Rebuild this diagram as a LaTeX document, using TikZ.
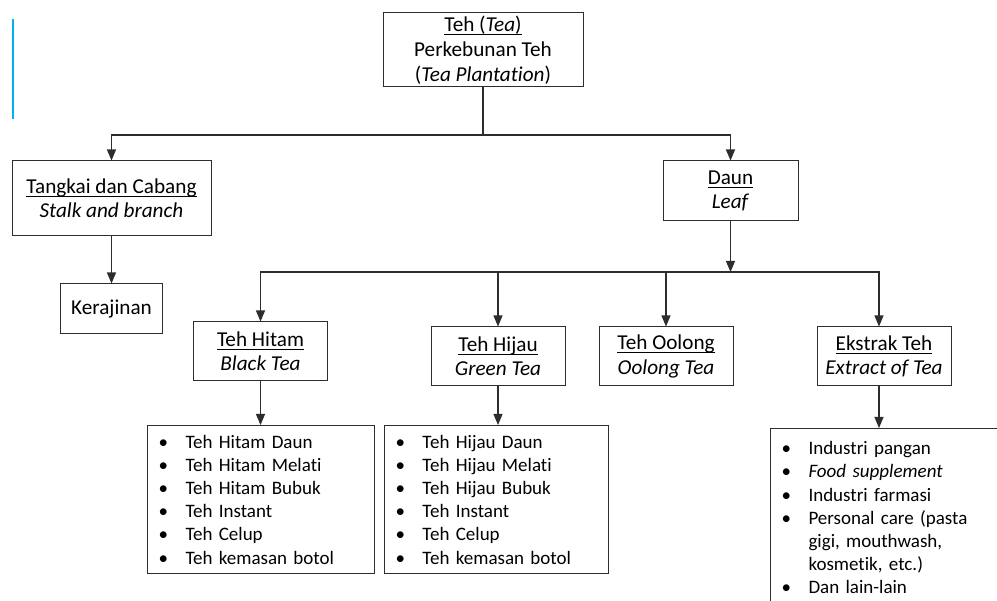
\documentclass[tikz,border=0pt]{standalone}
\usepackage{fontspec}
\setmainfont{Carlito}[Ligatures=NoCommon]
\usetikzlibrary{positioning,arrows.meta,calc}
\definecolor{LineGray}{RGB}{45,45,45}
\definecolor{MarkBlue}{RGB}{0,176,240}
\newsavebox\ulsave
\newcommand{\ultext}[1]{\sbox\ulsave{#1}\rlap{\rule[-3.4pt]{\wd\ulsave}{0.95pt}}\usebox\ulsave}
\newcommand{\bitem}[1]{\makebox[27pt][l]{\textbullet}#1}

\begin{document}
\begin{tikzpicture}[x=1pt, y=-1pt,
    every node/.style={font=\fontsize{19}{23.2}\selectfont, align=center},
    teabox/.style={draw=LineGray, line width=1pt, fill=white, inner sep=0pt,
                   font=\fontsize{21.2}{24.3}\selectfont},
    listbox/.style={draw=LineGray, line width=1pt, align=left, inner xsep=11pt,
                    inner ysep=0pt, anchor=north west},
    arr/.style={draw=LineGray, line width=1.1pt, -{Triangle[length=11pt,width=9pt]}},
    conn/.style={draw=LineGray, line width=1.1pt}]
  \useasboundingbox (0,0) rectangle (997,601);
  \clip (0,0) rectangle (997,601);
  \draw[MarkBlue, line width=2pt] (13,19) -- (13,119);

  % top level
  \node[teabox, minimum width=200pt, minimum height=74pt] (tea) at (483,50)
    {\ultext{Teh (\textit{Tea})}\\[0.6pt]Perkebunan Teh\\[0.6pt](\textit{Tea Plantation})};
  \node[teabox, minimum width=199pt, minimum height=75pt] (stalk) at (111.5,198.5)
    {\ultext{Tangkai dan Cabang}\\\textit{Stalk and branch}};
  \node[teabox, minimum width=135pt, minimum height=60pt] (leaf) at (730.5,191)
    {\ultext{Daun}\\\textit{Leaf}};
  \node[teabox, minimum width=102pt, minimum height=50pt] (craft) at (111.5,309)
    {Kerajinan};

  % leaf products
  \node[teabox, minimum width=134pt, minimum height=59pt] (black) at (260.5,351.5)
    {\ultext{Teh Hitam}\\\textit{Black Tea}};
  \node[teabox, minimum width=134pt, minimum height=59pt] (green) at (498,356.5)
    {\ultext{Teh Hijau}\\\textit{Green Tea}};
  \node[teabox, minimum width=134pt, minimum height=59pt] (oolong) at (666,356.5)
    {\ultext{Teh Oolong}\\\textit{Oolong Tea}};
  \node[teabox, minimum width=134pt, minimum height=59pt] (extract) at (884,356.5)
    {\ultext{Ekstrak Teh}\\\textit{Extract of Tea}};

  % lists
  \node[listbox, text width=205pt, minimum height=148pt] (blacklist) at (147,425)
    {\bitem{Teh Hitam Daun}\\\bitem{Teh Hitam Melati}\\\bitem{Teh Hitam Bubuk}\\
     \bitem{Teh Instant}\\\bitem{Teh Celup}\\\bitem{Teh kemasan botol}};
  \node[listbox, text width=206pt, minimum height=148pt, inner xsep=9pt] (greenlist) at (384,425)
    {\hspace*{2pt}\bitem{Teh Hijau Daun}\\\hspace*{2pt}\bitem{Teh Hijau Melati}\\
     \hspace*{2pt}\bitem{Teh Hijau Bubuk}\\\hspace*{2pt}\bitem{Teh Instant}\\
     \hspace*{2pt}\bitem{Teh Celup}\\\hspace*{2pt}\bitem{Teh kemasan botol}};
  \node[listbox, text width=240pt, inner ysep=13pt] (uselist) at (770,428)
    {\bitem{Industri pangan}\\\bitem{\textit{Food supplement}}\\\bitem{Industri farmasi}\\
     \bitem{Personal care (pasta}\\\hspace*{27pt}gigi, mouthwash,\\\hspace*{27pt}kosmetik, etc.)\\
     \bitem{Dan lain-lain}\\\mbox{}};

  % connectors
  \coordinate (split1) at (483,135);
  \coordinate (split2) at (730.5,272);
  \coordinate (exfoot) at ([xshift=-5pt]extract.south);
  \draw[conn] (tea.south) -- (split1);
  \draw[arr] (split1) -| (stalk.north);
  \draw[arr] (split1) -| (leaf.north);
  \draw[arr] (stalk.south) -- (craft.north);
  \draw[arr] (leaf.south) -- (split2);
  \draw[arr] (split2) -| (black.north);
  \draw[arr] (split2) -| (green.north);
  \draw[arr] (split2) -| (oolong.north);
  \draw[arr] (split2) -| ([xshift=-5pt]extract.north);
  \draw[arr] (black.south) -- (blacklist.north -| black.south);
  \draw[arr] (green.south) -- (greenlist.north -| green.south);
  \draw[arr] (exfoot) -- (uselist.north -| exfoot);
\end{tikzpicture}
\end{document}
